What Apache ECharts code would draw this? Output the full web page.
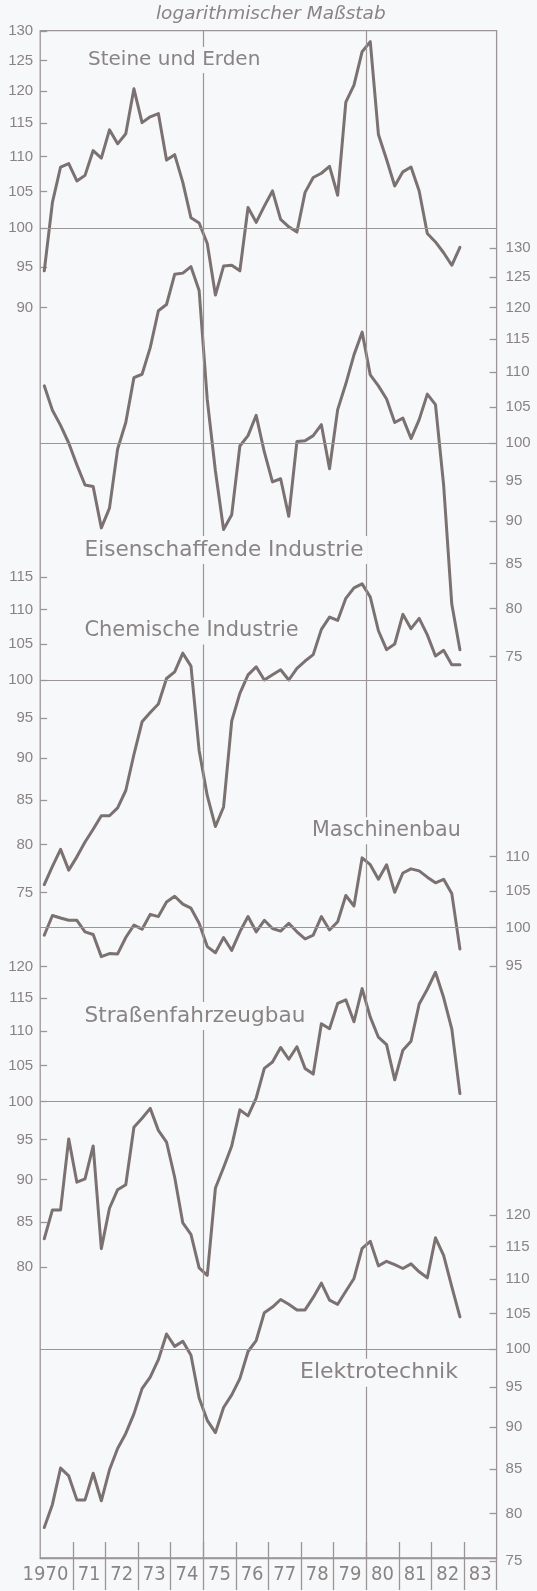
<!DOCTYPE html>
<html>
<head>
<meta charset="utf-8">
<script src="https://cdn.jsdelivr.net/npm/echarts@6.0.0/dist/echarts.min.js"></script>
<style>
html,body{margin:0;padding:0;background:#f7f8fa;}
#c{width:537px;height:1591px;}
</style>
</head>
<body>
<div id="c"></div>
<script>
// ---------------- data ----------------
const years = [1970,1971,1972,1973,1974,1975,1976,1977,1978,1979,1980,1981,1982,1983];
const yearLabels = ['1970','71','72','73','74','75','76','77','78','79','80','81','82','83'];
const quarterNames = ['I','II','III','IV'];

// quarterly index values, 1970 I ... 1982 IV
const steine = [94.5,103.5,108.5,109.0,106.5,107.3,110.9,109.8,114.0,111.9,113.4,120.4,115.1,116.0,116.5,109.5,110.3,106.3,101.4,100.7,98.0,91.5,95.1,95.2,94.5,102.8,100.8,103.0,105.1,101.2,100.2,99.5,104.9,107.0,107.6,108.6,104.5,118.3,121.0,126.5,128.2,113.3,109.6,105.8,107.8,108.5,105.1,99.3,98.2,96.8,95.2,97.5];
const eisen = [108.0,104.5,102.4,100.0,97.1,94.5,94.3,89.2,91.6,99.2,102.8,109.2,109.7,113.7,119.5,120.5,125.5,125.7,126.8,122.8,106.0,96.3,89.0,90.8,99.6,101.0,103.8,98.8,94.9,95.3,90.6,100.2,100.3,101.0,102.5,96.6,104.6,108.3,112.6,116.1,109.6,108.0,106.1,102.8,103.4,100.6,103.2,106.8,105.3,94.5,80.5,75.7];
const chemie = [75.8,77.7,79.5,77.3,78.7,80.3,81.7,83.2,83.2,84.1,86.1,90.4,94.5,95.7,96.8,100.2,101.1,103.7,101.9,90.9,85.5,82.0,84.2,94.6,98.2,100.7,101.8,100.0,100.7,101.4,100.0,101.6,102.6,103.5,107.1,108.9,108.4,111.7,113.3,113.9,111.9,106.9,104.2,105.0,109.3,107.2,108.7,106.3,103.3,104.1,102.1,102.1];
const maschinen = [99.0,101.65,101.3,101.0,101.0,99.45,99.1,96.2,96.6,96.55,98.7,100.35,99.8,101.8,101.5,103.5,104.3,103.2,102.65,100.6,97.5,96.7,98.7,97.0,99.45,101.5,99.45,101.0,99.9,99.55,100.6,99.45,98.5,99.0,101.5,99.7,100.8,104.4,102.95,109.8,108.8,106.7,108.8,104.85,107.6,108.2,107.9,107.0,106.2,106.7,104.7,97.2];
const strassen = [83.1,86.4,86.4,95.1,89.7,90.1,94.2,82.0,86.6,88.8,89.4,96.6,97.8,99.1,96.2,94.7,90.3,84.9,83.6,79.9,79.1,89.0,91.5,94.2,98.9,98.1,100.5,104.6,105.5,107.6,105.9,107.7,104.6,103.8,111.1,110.35,114.2,114.75,111.4,116.5,112.1,109.1,108.0,103.0,107.2,108.5,114.1,116.4,119.1,115.1,110.35,101.1];
const elektro = [78.5,81.0,85.1,84.2,81.5,81.5,84.5,81.4,84.9,87.4,89.2,91.6,94.8,96.3,98.6,102.1,100.4,101.1,99.2,93.6,90.8,89.3,92.4,94.0,96.1,99.7,101.2,105.1,105.9,107.0,106.3,105.5,105.5,107.3,109.4,106.9,106.3,108.2,110.1,114.7,115.8,112.0,112.7,112.2,111.6,112.3,111.1,110.2,116.35,113.6,108.9,104.5];

// tick labels of the six log scales
const ticksSteine = [90,95,100,105,110,115,120,125,130];
const ticksEisen = [75,80,85,90,95,100,105,110,115,120,125,130];
const ticksChemie = [75,80,85,90,95,100,105,110,115];
const ticksMaschinen = [95,100,105,110];
const ticksStrassen = [80,85,90,95,100,105,110,115,120];
const ticksElektro = [75,80,85,90,95,100,105,110,115,120];

const seriesNames = ['Steine und Erden','Eisenschaffende Industrie','Chemische Industrie','Maschinenbau','Straßenfahrzeugbau','Elektrotechnik'];
const titleText = 'logarithmischer Maßstab';
const refLevel = 100;
const markYears = [1975, 1980];

// ---------------- layout / style ----------------
const quarters = [];
years.forEach(y => quarterNames.forEach(q => quarters.push(y + ' ' + q)));

const BG = '#f7f8fa', INK = '#7b7171', FRAME = '#9c9595', TEXT = '#8a8383';
const LEFT = 40.2, RIGHT = 40.4, TOP = 30.7, AXIS_Y = 1558;
const H = 1591;

const panels = [
  {values: steine, ticks: ticksSteine, side: 'left', y100: 228.3, k: 1730, lx: 84, ly: 60, fs: 20},
  {values: eisen, ticks: ticksEisen, side: 'right', y100: 443, k: 1710, lx: 80.5, ly: 550, fs: 21.6},
  {values: chemie, ticks: ticksChemie, side: 'left', y100: 680, k: 1700, lx: 80.5, ly: 631, fs: 20.9},
  {values: maschinen, ticks: ticksMaschinen, side: 'right', y100: 927.7, k: 1720, lx: 308, ly: 830.7, fs: 20.6},
  {values: strassen, ticks: ticksStrassen, side: 'left', y100: 1101.7, k: 1705, lx: 80.5, ly: 1016, fs: 21.6},
  {values: elektro, ticks: ticksElektro, side: 'right', y100: 1349.3, k: 1695, lx: 296, ly: 1372.7, fs: 22}
];

const grid = [
  {left: LEFT, right: RIGHT, top: TOP, bottom: H - AXIS_Y, show: true, borderColor: FRAME, borderWidth: 1.3, backgroundColor: 'transparent'},
  {left: LEFT, right: RIGHT, top: TOP, bottom: H - AXIS_Y}
];
const xAxis = [
  {gridIndex: 0, type: 'value', min: 1970, max: 1984, position: 'bottom',
   axisLine: {show: true, lineStyle: {color: FRAME, width: 1.3}},
   axisTick: {show: true, inside: false, length: 32, customValues: years.slice(1).concat([1984]), lineStyle: {color: FRAME, width: 1.3}},
   axisLabel: {show: true, customValues: years.map(y => y + 0.5), margin: 7,
     fontFamily: "'Liberation Sans Narrow','DejaVu Sans Condensed','Liberation Sans'", fontSize: 20, color: TEXT,
     formatter: v => { const i = years.indexOf(Math.floor(v)); return i === 0 ? '{f|' + yearLabels[i] + '}' : yearLabels[i]; },
     rich: {f: {padding: [0, 22, 0, 0], fontFamily: "'Liberation Sans Narrow','DejaVu Sans Condensed','Liberation Sans'", fontSize: 20, color: TEXT}}},
   splitLine: {show: false}},
  {gridIndex: 1, type: 'value', min: 1970, max: 1984, position: 'bottom',
   axisLine: {show: false},
   axisTick: {show: true, inside: true, length: 16, customValues: years.slice(1), lineStyle: {color: FRAME, width: 1.3}},
   axisLabel: {show: false}, splitLine: {show: false}}
];
const yAxis = [
  {gridIndex: 0, type: 'value', min: 0, max: 1, show: false},
  {gridIndex: 1, type: 'value', min: 0, max: 1, show: false}
];
const series = [
  {type: 'line', xAxisIndex: 0, yAxisIndex: 0, data: [[1970, 0]], symbol: 'none', lineStyle: {opacity: 0}, silent: true,
   markLine: {symbol: ['none', 'none'], silent: true, label: {show: false}, lineStyle: {color: FRAME, width: 1.2, type: 'solid'},
     data: markYears.map(y => ({xAxis: y}))}}
];
const graphic = [
  {type: 'text', x: 270.8, y: 14, z: 20, style: {text: titleText, fill: TEXT, font: 'italic 18.5px "DejaVu Sans"', textAlign: 'center', textVerticalAlign: 'middle'}}
];

panels.forEach((p, i) => {
  const vmin = p.ticks[0], vmax = p.ticks[p.ticks.length - 1];
  const top = p.y100 - p.k * Math.log10(vmax / refLevel);
  const height = p.k * Math.log10(vmax / vmin);
  const gi = i + 2;
  grid.push({left: LEFT, right: RIGHT, top: top, height: height});
  xAxis.push({gridIndex: gi, type: 'category', data: quarters, boundaryGap: true, show: false});
  yAxis.push({gridIndex: gi, type: 'log', logBase: 10, min: vmin, max: vmax, position: p.side,
    axisLine: {show: false},
    axisTick: {show: true, inside: true, length: 7, customValues: p.ticks, lineStyle: {color: FRAME, width: 1.3}},
    axisLabel: {show: true, customValues: p.ticks, margin: p.side === 'left' ? 7 : 9, color: TEXT,
      fontFamily: "'Liberation Sans'", fontSize: 15, formatter: v => String(Math.round(v))},
    splitLine: {show: false}});
  series.push({type: 'line', name: seriesNames[i], xAxisIndex: gi, yAxisIndex: gi, data: p.values,
    symbol: 'none', showSymbol: false, clip: false, silent: true,
    lineStyle: {color: INK, width: 3, cap: 'round', join: 'round'},
    markLine: {symbol: ['none', 'none'], silent: true, label: {show: false},
      lineStyle: {color: FRAME, width: 1.2, type: 'solid'}, data: [{yAxis: refLevel}]}});
  graphic.push({type: 'text', x: p.lx, y: p.ly, z: 20,
    style: {text: seriesNames[i], fill: TEXT, font: p.fs + 'px "DejaVu Sans"', textVerticalAlign: 'middle',
      backgroundColor: BG, padding: [3, 4]}});
});

const chart = echarts.init(document.getElementById('c'), null, {renderer: 'canvas'});
chart.setOption({
  backgroundColor: BG,
  animation: false,
  grid: grid, xAxis: xAxis, yAxis: yAxis, series: series, graphic: graphic
});
</script>
</body>
</html>
